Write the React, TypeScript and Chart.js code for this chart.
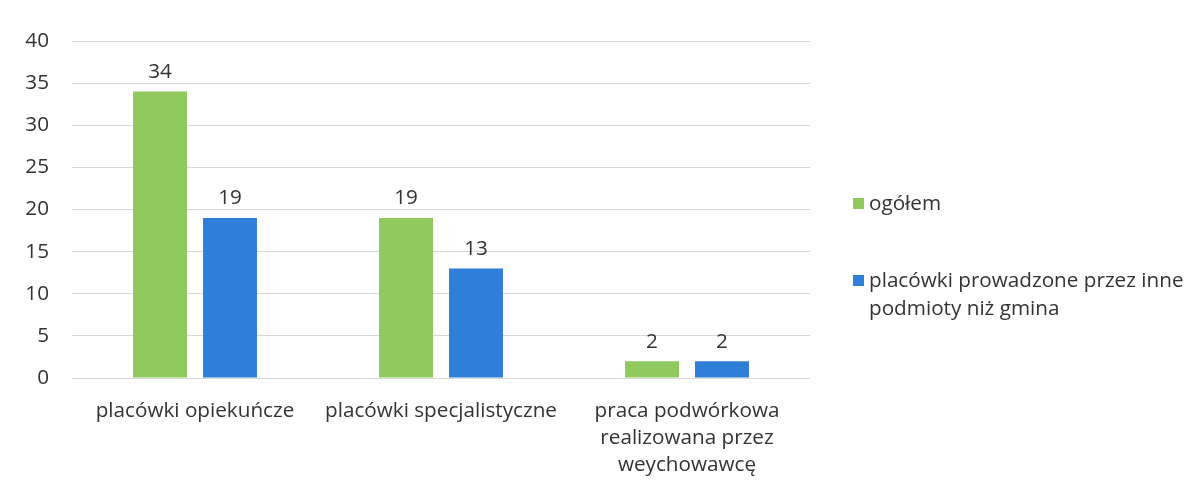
import React, { useEffect, useRef } from "react";
import { Chart, registerables } from "chart.js";

Chart.register(...registerables);

const categories: string[][] = [
  ["placówki opiekuńcze"],
  ["placówki specjalistyczne"],
  ["praca podwórkowa", "realizowana przez", "weychowawcę"],
];
const seriesNames = ["ogółem", "placówki prowadzone przez inne podmioty niż gmina"];
const ogolem = [34, 19, 2];
const inne = [19, 13, 2];
const yTicks = [0, 5, 10, 15, 20, 25, 30, 35, 40];

const GREEN = "#90c95d";
const BLUE = "#2f7fd9";
const TEXT = "#333333";
const FONT = "'Open Sans'";
const FS = 20.7;

const dataLabels = {
  id: "dataLabels",
  afterDatasetsDraw(chart: any) {
    const ctx = chart.ctx;
    ctx.save();
    ctx.font = `${FS}px ${FONT}`;
    ctx.fillStyle = TEXT;
    ctx.textAlign = "center";
    ctx.textBaseline = "bottom";
    chart.data.datasets.forEach((ds: any, i: number) => {
      const meta = chart.getDatasetMeta(i);
      meta.data.forEach((bar: any, j: number) => {
        ctx.fillText(String(ds.data[j]), bar.x, bar.y - 9);
      });
    });
    ctx.restore();
  },
};

const sideLegend = {
  id: "sideLegend",
  afterDraw(chart: any) {
    const ctx = chart.ctx;
    ctx.save();
    ctx.font = `${FS}px ${FONT}`;
    ctx.textBaseline = "middle";
    ctx.textAlign = "left";
    const x0 = 853;
    const maxW = 330;
    const ys = [204, 281];
    chart.data.datasets.forEach((ds: any, i: number) => {
      const y = ys[i];
      ctx.fillStyle = ds.backgroundColor;
      ctx.fillRect(x0, y - 6, 11, 11);
      const words = String(ds.label).split(" ");
      const lines: string[] = [];
      let cur = "";
      words.forEach((w) => {
        const t = cur ? cur + " " + w : w;
        if (ctx.measureText(t).width > maxW && cur) {
          lines.push(cur);
          cur = w;
        } else cur = t;
      });
      if (cur) lines.push(cur);
      ctx.fillStyle = TEXT;
      lines.forEach((ln, k) => ctx.fillText(ln, x0 + 16, y + k * 28));
    });
    ctx.restore();
  },
};

export default function App() {
  const ref = useRef<HTMLCanvasElement>(null);
  useEffect(() => {
    if (!ref.current) return;
    const chart = new Chart(ref.current, {
      type: "bar",
      data: {
        labels: categories,
        datasets: [
          { label: seriesNames[0], data: ogolem, backgroundColor: GREEN, categoryPercentage: 0.569, barPercentage: 0.771 },
          { label: seriesNames[1], data: inne, backgroundColor: BLUE, categoryPercentage: 0.569, barPercentage: 0.771 },
        ],
      },
      options: {
        animation: false,
        responsive: false,
        maintainAspectRatio: false,
        layout: { padding: { left: 0, right: 393, top: 41, bottom: 0 } },
        plugins: { legend: { display: false }, tooltip: { enabled: false } },
        scales: {
          x: {
            grid: { display: false },
            border: { display: false },
            ticks: { color: TEXT, font: { family: FONT, size: FS, lineHeight: 1.32 }, padding: 11, maxRotation: 0, autoSkip: false },
            afterFit: (s: any) => { s.height = 115; },
          },
          y: {
            min: 0,
            max: 40,
            afterBuildTicks: (s: any) => { s.ticks = yTicks.map((v) => ({ value: v })); },
            grid: { color: "#d9d9d9", drawTicks: false },
            border: { display: false },
            ticks: { color: TEXT, font: { family: FONT, size: FS }, padding: 23 },
            afterFit: (s: any) => { s.width = 72; },
          },
        },
      },
      plugins: [dataLabels, sideLegend],
    });
    return () => chart.destroy();
  }, []);
  return (
    <div style={{ position: "fixed", left: 0, top: 0, width: 1203, height: 493, background: "#fff" }}>
      <canvas ref={ref} width={1203} height={493} style={{ width: 1203, height: 493 }} />
    </div>
  );
}
